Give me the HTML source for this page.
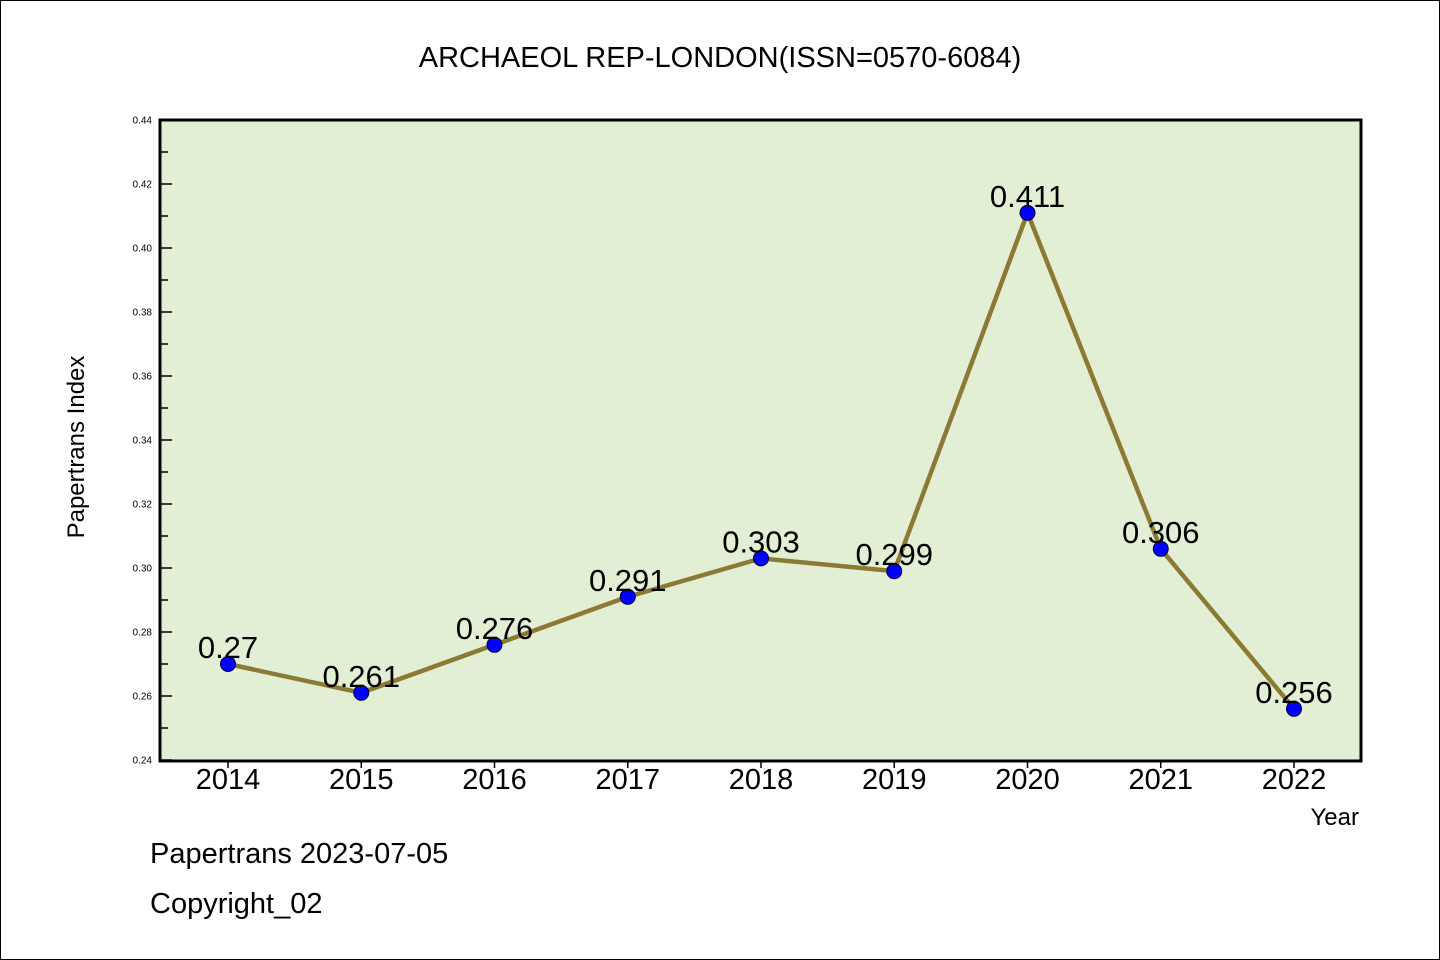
<!DOCTYPE html>
<html><head><meta charset="utf-8"><style>
html,body{margin:0;padding:0;background:#fff;}
svg{display:block;}
text{font-family:"WenQuanYi Zen Hei","Liberation Sans",sans-serif;fill:#000;}
</style></head><body>
<svg id="chart" width="1440" height="960">
<rect x="0.5" y="0.5" width="1439" height="959" fill="#fff" stroke="#000"/>
<text x="720" y="67" font-size="29" text-anchor="middle">ARCHAEOL REP-LONDON(ISSN=0570-6084)</text>
<rect x="160" y="120" width="1201" height="641" fill="#e2efd5"/>
<g id="yticks"></g><g id="xticks"></g>
<polyline id="line" fill="none" stroke="#8b7a34" stroke-width="4.5" stroke-linejoin="round"/>
<g id="points"></g>
<rect x="160" y="120" width="1201" height="641" fill="none" stroke="#000" stroke-width="3"/>
<text transform="translate(84,447) rotate(-90)" font-size="24" text-anchor="middle">Papertrans Index</text>
<text x="1359" y="825" font-size="24" text-anchor="end">Year</text>
<text x="150" y="863" font-size="29">Papertrans 2023-07-05</text>
<text x="150" y="913" font-size="29">Copyright_02</text>
</svg>
<script>
const years=["2014","2015","2016","2017","2018","2019","2020","2021","2022"];
const values=[0.27,0.261,0.276,0.291,0.303,0.299,0.411,0.306,0.256];
const valueLabels=["0.27","0.261","0.276","0.291","0.303","0.299","0.411","0.306","0.256"];
const yTickLabels=["0.24","0.26","0.28","0.30","0.32","0.34","0.36","0.38","0.40","0.42","0.44"];
const yMin=0.24,yMax=0.44;
const NS="http://www.w3.org/2000/svg";
function yS(v){return 760-(v-yMin)/(yMax-yMin)*640;}
function xS(i){return 228+i*(1294-228)/(years.length-1);}
function mk(tag,attrs,parent,txt){const e=document.createElementNS(NS,tag);for(const k in attrs)e.setAttribute(k,attrs[k]);if(txt!==undefined)e.textContent=txt;parent.appendChild(e);return e;}
const yt=document.getElementById('yticks');
yTickLabels.forEach((l,i)=>{
  const v=parseFloat(l),y=yS(v);
  const t=mk('line',{x1:160,x2:172,y1:y,y2:y,stroke:'#000','stroke-width':1.5},yt);
  
  
  const tx=mk('text',{x:152,y:y+3.5,'font-size':10,'text-anchor':'end'},yt,l);
  
  
  if(i<yTickLabels.length-1){
    const ym=yS(v+0.01);
    const m=mk('line',{x1:160,x2:168,y1:ym,y2:ym,stroke:'#000','stroke-width':1.5},yt);
    
    
  }
});
const xt=document.getElementById('xticks');
years.forEach((yr,i)=>{
  const x=xS(i);
  const t=mk('line',{x1:x,x2:x,y1:761,y2:768,stroke:'#000','stroke-width':1.5},xt);
  
  
  const tx=mk('text',{x:x,y:789,'font-size':29,'text-anchor':'middle'},xt,yr);
  
  
});
document.getElementById('line').setAttribute('points',values.map((v,i)=>xS(i)+','+yS(v)).join(' '));
const pg=document.getElementById('points');
values.forEach((v,i)=>{
  const c=mk('circle',{cx:xS(i),cy:yS(v),r:7.5,fill:'#0000ff',stroke:'#000033','stroke-width':1},pg);
  
  
  const t=mk('text',{x:xS(i),y:yS(v)-6,'font-size':31,'text-anchor':'middle'},pg,valueLabels[i]);
  
  
});
</script>
</body></html>
